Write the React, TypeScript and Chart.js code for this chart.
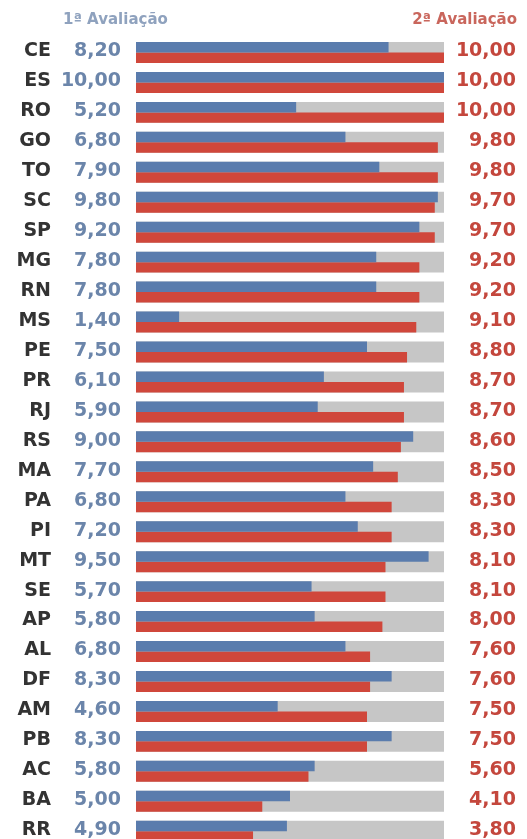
import React, { useEffect, useRef } from "react";
import { Chart, registerables } from "chart.js";

Chart.register(...registerables);

const states = ["CE","ES","RO","GO","TO","SC","SP","MG","RN","MS","PE","PR","RJ","RS","MA","PA","PI","MT","SE","AP","AL","DF","AM","PB","AC","BA","RR"];
const firstEval = [8.2,10.0,5.2,6.8,7.9,9.8,9.2,7.8,7.8,1.4,7.5,6.1,5.9,9.0,7.7,6.8,7.2,9.5,5.7,5.8,6.8,8.3,4.6,8.3,5.8,5.0,4.9];
const secondEval = [10.0,10.0,10.0,9.8,9.8,9.7,9.7,9.2,9.2,9.1,8.8,8.7,8.7,8.6,8.5,8.3,8.3,8.1,8.1,8.0,7.6,7.6,7.5,7.5,5.6,4.1,3.8];
const maxScore = 10;
const header1 = "1ª Avaliação";
const header2 = "2ª Avaliação";

const fmt = (v: number) => v.toFixed(2).replace(".", ",");

const labelsPlugin = {
  id: "rowLabels",
  afterDatasetsDraw(chart: any) {
    const ctx = chart.ctx;
    const y = chart.scales.y;
    ctx.save();
    ctx.textBaseline = "middle";
    ctx.font = "bold 19px 'DejaVu Sans'";
    states.forEach((s, i) => {
      const py = y.getPixelForValue(i) - 1;
      ctx.textAlign = "right";
      ctx.fillStyle = "#333333";
      ctx.fillText(s, 51, py);
      ctx.fillStyle = "#6b85aa";
      ctx.fillText(fmt(firstEval[i]), 121, py);
      ctx.fillStyle = "#c4473d";
      ctx.fillText(fmt(secondEval[i]), 516, py);
    });
    ctx.font = "bold 15px 'DejaVu Sans'";
    ctx.textAlign = "left";
    ctx.fillStyle = "#8fa2be";
    ctx.fillText(header1, 63, 20);
    ctx.textAlign = "right";
    ctx.fillStyle = "#c9665c";
    ctx.fillText(header2, 517, 20);
    ctx.restore();
  },
};

export default function App() {
  const ref = useRef<HTMLCanvasElement | null>(null);
  useEffect(() => {
    if (!ref.current) return;
    const chart = new Chart(ref.current, {
      type: "bar",
      data: {
        labels: states,
        datasets: [
          {
            label: "1ª Avaliação",
            data: firstEval,
            backgroundColor: "#5a7cad",
            barPercentage: 1,
            categoryPercentage: 0.7,
            order: 1,
          },
          {
            label: "2ª Avaliação",
            data: secondEval,
            backgroundColor: "#d0473b",
            barPercentage: 1,
            categoryPercentage: 0.7,
            order: 1,
          },
          {
            label: "bg",
            data: states.map(() => maxScore),
            backgroundColor: "#c6c6c6",
            grouped: false,
            barPercentage: 1,
            categoryPercentage: 0.7,
            order: 2,
          },
        ],
      },
      options: {
        indexAxis: "y",
        responsive: false,
        animation: false,
        devicePixelRatio: 1,
        layout: { padding: { left: 136, right: 83, top: 37.5, bottom: 13.8 } },
        plugins: { legend: { display: false }, tooltip: { enabled: false } },
        scales: {
          x: { min: 0, max: maxScore, display: false },
          y: { type: "category", display: false, offset: true },
        },
      },
      plugins: [labelsPlugin],
    } as any);
    return () => chart.destroy();
  }, []);
  return (
    <div style={{ position: "fixed", left: 0, top: 0, width: 527, height: 839, overflow: "hidden", background: "#ffffff" }}>
      <canvas ref={ref} width={527} height={860} style={{ display: "block" }} />
    </div>
  );
}
